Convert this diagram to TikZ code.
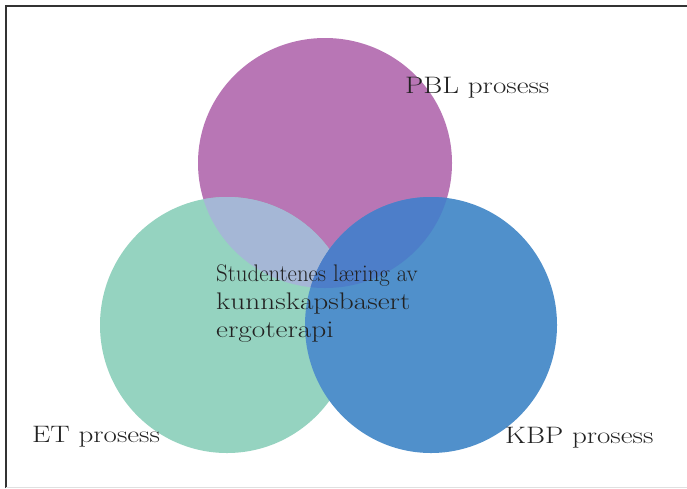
\documentclass[tikz,border=0pt]{standalone}
\usepackage{fontspec}
\setmainfont{Latin Modern Roman}[FakeStretch=1.22]
\definecolor{magc}{HTML}{B876B5}
\definecolor{grnc}{HTML}{95D3C0}
\definecolor{bluc}{HTML}{5090CB}
\definecolor{mgc}{HTML}{A5B7D6}
\definecolor{mbc}{HTML}{4D7EC9}
\definecolor{txtc}{HTML}{222222}
\tikzset{
  lbl/.style={inner sep=0pt, anchor=base west, text=txtc, font=\fontsize{23.8}{26}\selectfont},
  ctr/.style={inner sep=0pt, anchor=base west, text=txtc, font=\fontsize{24}{28}\selectfont, align=left}
}
\begin{document}
\begin{tikzpicture}[x=1pt,y=-1pt]
\useasboundingbox (0,0) rectangle (687,488);
\fill[white] (0,0) rectangle (687,488);
% frame
\draw[line width=2pt, color=black!80] (5.5,488) -- (5.5,5.5) -- (687,5.5);
\draw[line width=1pt, color=black!12] (5.5,487) -- (687,487);
% circles
\coordinate (cm) at (325,163);
\coordinate (cg) at (227,325);
\coordinate (cb) at (431,325);
\fill[magc] (cm) ellipse [x radius=127, y radius=125];
\fill[grnc] (cg) ellipse [x radius=127, y radius=128];
\begin{scope}
  \clip (cm) ellipse [x radius=127, y radius=125];
  \fill[mgc] (cg) ellipse [x radius=127, y radius=128];
\end{scope}
\fill[bluc] (cb) ellipse [x radius=126, y radius=128];
\begin{scope}
  \clip (cm) ellipse [x radius=127, y radius=125];
  \fill[mbc] (cb) ellipse [x radius=126, y radius=128];
\end{scope}
% labels
\node[lbl] (pbl) at (405,93) {PBL prosess};
\node[lbl] (et) at (32,442) {ET prosess};
\node[lbl] (kbp) at (505,443) {KBP prosess};
\node[ctr] (center) at (216,337) {\scalebox{0.78}[1]{Studentenes læring av}\\kunnskapsbasert\\ergoterapi};
\end{tikzpicture}
\end{document}
